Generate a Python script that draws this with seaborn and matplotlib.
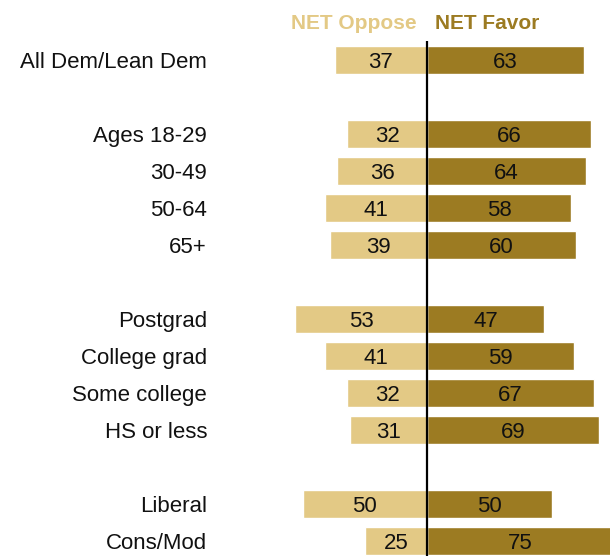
import matplotlib
matplotlib.use("Agg")
import matplotlib.pyplot as plt
import seaborn as sns
import pandas as pd
import numpy as np

# Survey groups, with empty strings marking the spacer rows between blocks
groups = ["All Dem/Lean Dem", "",
          "Ages 18-29", "30-49", "50-64", "65+", "",
          "Postgrad", "College grad", "Some college", "HS or less", "",
          "Liberal", "Cons/Mod"]
net_oppose = [37, None, 32, 36, 41, 39, None, 53, 41, 32, 31, None, 50, 25]
net_favor = [63, None, 66, 64, 58, 60, None, 47, 59, 67, 69, None, 50, 75]

OPPOSE_COLOR = "#E3C985"
FAVOR_COLOR = "#9C7B22"

sns.set_theme(style="white")
plt.rcParams["font.family"] = ["Liberation Sans", "DejaVu Sans"]

rows = [i for i, g in enumerate(groups) if g]
df = pd.DataFrame({
    "row": rows,
    "group": [groups[i] for i in rows],
    "oppose": [net_oppose[i] for i in rows],
    "favor": [net_favor[i] for i in rows],
})
df["oppose_neg"] = -df["oppose"]

W, H = 610, 556
fig = plt.figure(figsize=(W / 100, H / 100), dpi=100)
ax = fig.add_axes([0, 0, 1, 1])

px_per_unit = 2.49
center_px = 427
row_px = 37
first_row_px = 60

sns.barplot(data=df, x="favor", y="row", orient="h", native_scale=True,
            color=FAVOR_COLOR, width=0.757, saturation=1, ax=ax)
sns.barplot(data=df, x="oppose_neg", y="row", orient="h", native_scale=True,
            color=OPPOSE_COLOR, width=0.757, saturation=1, ax=ax)

ax.set_xlim(-center_px / px_per_unit, (W - center_px) / px_per_unit)
ax.set_ylim((H - first_row_px) / row_px, -first_row_px / row_px)
ax.axis("off")

# text baseline sits a little below the row centre so caps look centred
base_off = 8 / row_px

# value labels centred in each segment
for _, r in df.iterrows():
    ax.text(r["favor"] / 2, r["row"] + base_off, f"{r['favor']:.0f}",
            ha="center", va="baseline", fontsize=16, color="#111111")
    ax.text(-r["oppose"] / 2, r["row"] + base_off, f"{r['oppose']:.0f}",
            ha="center", va="baseline", fontsize=16, color="#111111")

# group labels, right-aligned left of the bars
label_x = (207 - center_px) / px_per_unit
for _, r in df.iterrows():
    ax.text(label_x, r["row"] + base_off, r["group"], ha="right",
            va="baseline", fontsize=16, color="#111111")

# zero line
ax.plot([0, 0], [(41 - first_row_px) / row_px, (H - first_row_px) / row_px + 1],
        color="black", lw=1.6, solid_capstyle="butt", clip_on=True)

# column headers
head_y = (29 - first_row_px) / row_px
ax.text((417 - center_px) / px_per_unit, head_y, "NET Oppose", ha="right",
        va="baseline", fontsize=15, fontweight="bold", color=OPPOSE_COLOR)
ax.text((435 - center_px) / px_per_unit, head_y, "NET Favor", ha="left",
        va="baseline", fontsize=15, fontweight="bold", color=FAVOR_COLOR)

fig.savefig("out.png", dpi=100)
